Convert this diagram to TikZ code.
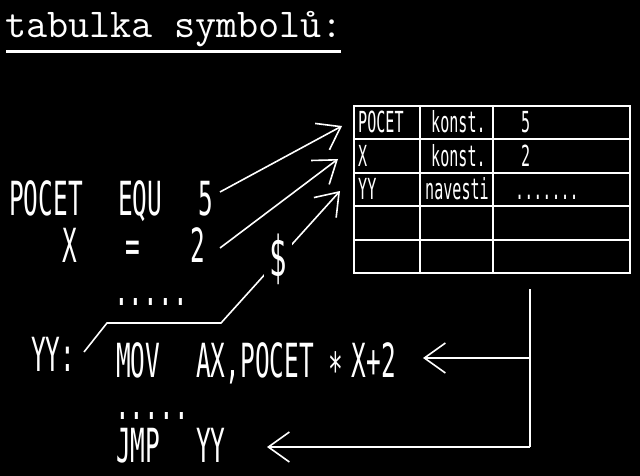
\documentclass[tikz,border=0pt]{standalone}
\usepackage{fontspec}
\usetikzlibrary{arrows.meta}
\newfontfamily\codefont[FakeStretch=0.52]{DejaVu Sans Mono}

\tikzset{
    code/.style = {font=\codefont\fontsize{47}{47}\selectfont, text=white, inner sep=0pt, anchor=base west},
    cell/.style = {font=\codefont\fontsize{29}{29}\selectfont, text=white, inner sep=0pt, anchor=base west},
    wire/.style = {draw=white, line width=1.6pt},
    tip/.style  = {wire, -{Straight Barb[length=21pt,width=30pt]}},
}

\begin{document}
\begin{tikzpicture}[x=1pt, y=-1pt]
    \fill[black] (0,0) rectangle (640,476);

    % title
    \node[text=white, inner sep=0pt, anchor=base west, font=\ttfamily\fontsize{41}{41}\selectfont] (title) at (5,38) {tabulka symbolů:};
    \draw[white, line width=3pt] (6,51.5) -- (341,51.5);

    % table
    \draw[wire] (354,106) rectangle (630,273);
    \foreach \y in {139,173,240} \draw[wire] (354,\y) -- (630,\y);
    \draw[wire, line width=2.6pt] (354,206) -- (630,206);
    \foreach \x in {420,493} \draw[wire] (\x,106) -- (\x,273);

    \node[cell] (pocetT) at (358,133) {POCET};
    \node[cell] (konstA) at (431,133) {konst.};
    \node[cell] (fiveT)  at (521,133) {5};
    \node[cell] (xT)     at (358,167) {X};
    \node[cell] (konstB) at (431,167) {konst.};
    \node[cell] (twoT)   at (521,167) {2};
    \node[cell] (yyT)    at (358,200) {YY};
    \node[cell] (navT)   at (425,200) {navesti};
    \node[cell] (dotsT)  at (515,200) {.......};

    % source
    \node[code] (pocet) at (9,215)   {POCET};
    \node[code] (equ)   at (118,215) {EQU};
    \node[code] (five)  at (198,215) {5};
    \node[code] (ex)    at (62,262)  {X};
    \node[code] (eq)    at (125,262) {=};
    \node[code] (two)   at (190,262) {2};
    \node[code] (dotsA) at (114,305) {.....};
    \node[code] (yy)    at (31,371)  {YY:};
    \node[code] (mov)   at (116,377) {MOV};
    \node[code] (ax)    at (196,377) {AX,POCET};
    \node[code] (mul)   at (328,377) {\raisebox{-9pt}{*}\hspace{9pt}X+2};
    \node[code] (dotsB) at (115,419) {.....};
    \node[code] (jmp)   at (116,462) {JMP};
    \node[code] (yyB)   at (196,462) {YY};

    % arrow ends
    \coordinate (s1) at (220,192);
    \coordinate (s2) at (220,248);
    \coordinate (s3) at (84,352);
    \coordinate (k1) at (107,323);
    \coordinate (k2) at (221,323);
    \coordinate (r1) at (342,126);
    \coordinate (r2) at (338,159);
    \coordinate (r3) at (340,191);
    \coordinate (top) at (530,289);
    \coordinate (mid) at (530,358);
    \coordinate (bot) at (530,447);
    \coordinate (t1) at (423,358);
    \coordinate (t2) at (267,447);

    \draw[tip] (s1) -- (r1);
    \draw[tip] (s2) -- (r2);
    \draw[tip] (s3) -- (k1) -- (k2) -- node[pos=.48, fill=black, inner sep=5pt, text=white, font=\codefont\fontsize{56}{56}\selectfont] (dollar) {\$} (r3);

    \draw[wire] (top) -- (bot);
    \draw[tip] (mid) -- (t1);
    \draw[tip] (bot) -- (t2);
\end{tikzpicture}
\end{document}
